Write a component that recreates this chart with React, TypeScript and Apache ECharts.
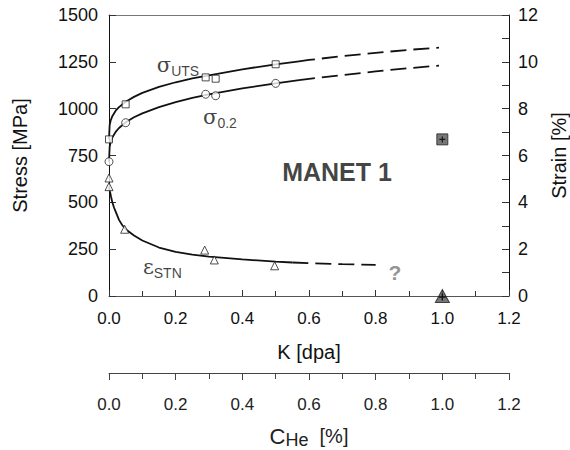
import React, { useEffect, useRef } from "react";
import * as echarts from "echarts";

// K [dpa] vs stress [MPa] (left axis) and strain [%] (right axis)
const utsMarkers = [[0, 836], [0.05, 1023], [0.29, 1167], [0.32, 1160], [0.5, 1237]];
const yieldMarkers = [[0, 717], [0.05, 925], [0.29, 1077], [0.32, 1069], [0.5, 1135]];
const strainMarkers = [[0, 5.04], [0, 4.67], [0.047, 2.85], [0.287, 1.96], [0.316, 1.54], [0.497, 1.29]];

const utsFitSolid = [[0, 836], [0.002, 913], [0.005, 937], [0.01, 960], [0.02, 989], [0.03, 1008], [0.05, 1037], [0.075, 1063], [0.1, 1084], [0.15, 1116], [0.2, 1141], [0.25, 1162], [0.3, 1178], [0.4, 1210], [0.5, 1237], [0.57, 1253]];
const utsFitDashed = [[0.57, 1253], [0.6, 1260], [0.7, 1280], [0.8, 1298], [0.9, 1314], [0.99, 1326]];
const yieldFitSolid = [[0, 717], [0.002, 797], [0.005, 822], [0.01, 846], [0.02, 876], [0.03, 897], [0.05, 927], [0.075, 954], [0.1, 975], [0.15, 1008], [0.2, 1035], [0.25, 1057], [0.3, 1076], [0.4, 1108], [0.5, 1135], [0.57, 1152]];
const yieldFitDashed = [[0.57, 1152], [0.6, 1159], [0.7, 1179], [0.8, 1199], [0.9, 1216], [0.99, 1230]];
const strainFitSolid = [[0, 4.67], [0.003, 4.45], [0.006, 4.25], [0.01, 4.0], [0.015, 3.78], [0.02, 3.6], [0.03, 3.25], [0.04, 3.02], [0.05, 2.85], [0.075, 2.58], [0.1, 2.37], [0.15, 2.07], [0.2, 1.88], [0.25, 1.77], [0.3, 1.68], [0.4, 1.56], [0.5, 1.47], [0.55, 1.43]];
const strainFitDashed = [[0.55, 1.43], [0.6, 1.4], [0.7, 1.36], [0.8, 1.33]];

const filledSquare = [[1.0, 836]];
const filledTriangle = [[1.0, 0]];

const xTicks = [0, 1.2, 0.2];
const stressTicks = [0, 1500, 250];
const strainTicks = [0, 12, 2];

const FONT = "Liberation Sans, Arial, sans-serif";
const PLUS = "path://M4,0h2v4h4v2h-4v4h-2v-4h-4v-2h4z";

export default function App() {
  const ref = useRef<HTMLDivElement>(null);
  useEffect(() => {
    const chart = echarts.init(ref.current!, null, { renderer: "svg" });
    const lineS = (data: number[][], yIdx: number, dashed: boolean) => ({
      type: "line",
      xAxisIndex: 0,
      yAxisIndex: yIdx,
      data,
      showSymbol: false,
      symbol: "none",
      smooth: false,
      lineStyle: { color: "#111", width: 1.8, type: dashed ? [16, 7] : "solid" },
      z: 3,
    });
    const markS = (data: number[][], yIdx: number, symbol: string, size: number) => ({
      type: "scatter",
      xAxisIndex: 0,
      yAxisIndex: yIdx,
      data,
      symbol,
      symbolSize: size,
      itemStyle: { color: "#fff", borderColor: "#222", borderWidth: 1 },
      z: 4,
    });
    const textS = (pos: number[], formatter: string, rich: any) => ({
      type: "scatter",
      xAxisIndex: 0,
      yAxisIndex: 0,
      data: [pos],
      symbolSize: 1,
      itemStyle: { color: "transparent" },
      label: { show: true, position: "inside", formatter, rich },
      silent: true,
      z: 6,
    });
    const axisCol = "#333";
    chart.setOption({
      animation: false,
      backgroundColor: "#fff",
      grid: [
        { left: 109, top: 15, width: 400, height: 281, containLabel: false, outerBoundsMode: "none" },
        { left: 109, top: 372, width: 400, height: 1, containLabel: false, outerBoundsMode: "none" },
      ],
      xAxis: [
        {
          gridIndex: 0, type: "value", position: "bottom",
          min: xTicks[0], max: xTicks[1], interval: xTicks[2],
          axisLine: { show: true, onZero: false, lineStyle: { color: "#555", width: 1 } },
          axisTick: { show: true, inside: true, length: 6, lineStyle: { color: "#333" } },
          minorTick: { show: true, splitNumber: 2, length: 5, lineStyle: { color: "#333" } },
          splitLine: { show: false },
          axisLabel: { fontSize: 17, color: "#111", margin: 14, fontFamily: FONT, formatter: (v: number) => v.toFixed(1) },
          name: "K [dpa]", nameLocation: "middle", nameGap: 46,
          nameTextStyle: { fontSize: 20, color: "#111", fontFamily: FONT },
        },
        {
          gridIndex: 0, type: "value", position: "top",
          min: xTicks[0], max: xTicks[1],
          axisLine: { show: true, onZero: false, lineStyle: { color: "#777", width: 1 } },
          axisTick: { show: false }, axisLabel: { show: false }, splitLine: { show: false },
        },
        {
          gridIndex: 1, type: "value", position: "bottom",
          min: xTicks[0], max: xTicks[1], interval: xTicks[2],
          axisLine: { show: true, onZero: false, lineStyle: { color: "#444", width: 1 } },
          axisTick: { show: true, inside: false, length: 7, lineStyle: { color: "#444" } },
          minorTick: { show: true, splitNumber: 2, length: 6, lineStyle: { color: "#444" } },
          splitLine: { show: false },
          axisLabel: { fontSize: 17, color: "#222", margin: 23, fontFamily: FONT, formatter: (v: number) => v.toFixed(1) },
          name: "{c|C}{s|He}{b|  [%]}", nameLocation: "middle", nameGap: 50,
          nameTextStyle: {
            fontFamily: FONT, color: "#222",
            rich: {
              c: { fontSize: 22, fontFamily: FONT, color: "#222" },
              s: { fontSize: 18, fontFamily: FONT, color: "#222", padding: [8, 0, 0, 0] },
              b: { fontSize: 20, fontFamily: FONT, color: "#222" },
            },
          },
        },
      ],
      yAxis: [
        {
          gridIndex: 0, type: "value", position: "left",
          min: stressTicks[0], max: stressTicks[1], interval: stressTicks[2],
          axisLine: { show: true, onZero: false, lineStyle: { color: "#111", width: 1 } },
          axisTick: { show: true, inside: true, length: 7, lineStyle: { color: axisCol } },
          splitLine: { show: false },
          axisLabel: { fontSize: 18, color: "#111", margin: 11, fontFamily: FONT, formatter: (v: number) => String(v) },
          name: "Stress [MPa]", nameLocation: "middle", nameGap: 79, nameRotate: 90,
          nameTextStyle: { fontSize: 20, color: "#111", fontFamily: FONT },
        },
        {
          gridIndex: 0, type: "value", position: "right",
          min: strainTicks[0], max: strainTicks[1], interval: strainTicks[2],
          axisLine: { show: true, onZero: false, lineStyle: { color: "#111", width: 1 } },
          axisTick: { show: true, inside: true, length: 7, lineStyle: { color: axisCol } },
          minorTick: { show: true, splitNumber: 2, length: 7, lineStyle: { color: axisCol } },
          splitLine: { show: false },
          axisLabel: { fontSize: 18, color: "#111", margin: 9, fontFamily: FONT, formatter: (v: number) => String(v) },
          name: "Strain [%]", nameLocation: "middle", nameGap: 27, nameRotate: 90,
          nameTextStyle: { fontSize: 20, color: "#111", fontFamily: FONT },
        },
        { gridIndex: 1, type: "value", show: false, min: 0, max: 1 },
      ],
      series: [
        lineS(utsFitSolid, 0, false),
        lineS(utsFitDashed, 0, true),
        lineS(yieldFitSolid, 0, false),
        lineS(yieldFitDashed, 0, true),
        lineS(strainFitSolid, 1, false),
        lineS(strainFitDashed, 1, true),
        markS(utsMarkers, 0, "rect", 7),
        markS(yieldMarkers, 0, "circle", 8),
        markS(strainMarkers, 1, "triangle", 8),
        {
          type: "scatter", xAxisIndex: 0, yAxisIndex: 0, data: filledSquare,
          symbol: "rect", symbolSize: 11,
          itemStyle: { color: "#555", borderColor: "#222", borderWidth: 1 }, z: 4,
        },
        {
          type: "scatter", xAxisIndex: 0, yAxisIndex: 1, data: filledTriangle,
          symbol: "triangle", symbolSize: [14, 13],
          itemStyle: { color: "#555", borderColor: "#222", borderWidth: 1 }, z: 4,
        },
        {
          type: "scatter", xAxisIndex: 0, yAxisIndex: 0, data: filledSquare,
          symbol: PLUS, symbolSize: 6, itemStyle: { color: "#000" }, z: 5,
        },
        {
          type: "scatter", xAxisIndex: 0, yAxisIndex: 1, data: filledTriangle,
          symbol: PLUS, symbolSize: 7, symbolOffset: [0, 1], itemStyle: { color: "#000" }, z: 5,
        },
        textS([0.207, 1233], "{g|σ}{s|UTS}", {
          g: { fontSize: 21, fontFamily: "DejaVu Serif, serif", color: "#111" },
          s: { fontSize: 14, fontFamily: FONT, color: "#111", padding: [12, 0, 0, 0] },
        }),
        textS([0.333, 956], "{g|σ}{s|0.2}", {
          g: { fontSize: 21, fontFamily: "DejaVu Serif, serif", color: "#111" },
          s: { fontSize: 14, fontFamily: FONT, color: "#111", padding: [12, 0, 0, 0] },
        }),
        textS([0.16, 155], "{g|ε}{s|STN}", {
          g: { fontSize: 21, fontFamily: "DejaVu Serif, serif", color: "#111" },
          s: { fontSize: 14, fontFamily: FONT, color: "#111", padding: [12, 0, 0, 0] },
        }),
        textS([0.684, 662], "{m|MANET 1}", {
          m: { fontSize: 25, fontWeight: "bold", fontFamily: FONT, color: "#111" },
        }),
        textS([0.858, 128], "{q|?}", {
          q: { fontSize: 21, fontWeight: "bold", fontFamily: FONT, color: "#777" },
        }),
      ],
    });
    return () => chart.dispose();
  }, []);
  return (
    <div
      ref={ref}
      style={{ position: "fixed", left: 0, top: 0, width: 570, height: 450, background: "#fff" }}
    />
  );
}
